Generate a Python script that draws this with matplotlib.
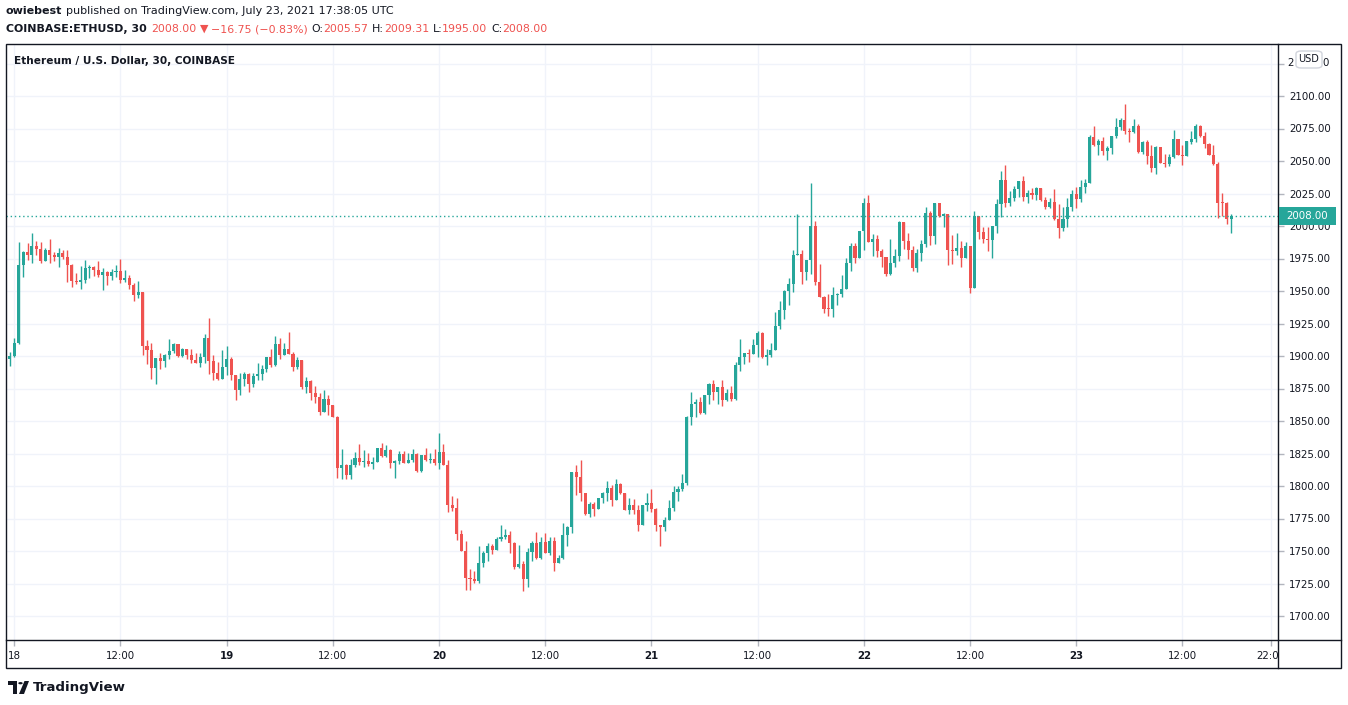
import matplotlib
matplotlib.use("Agg")
import matplotlib.pyplot as plt
import numpy as np
from matplotlib.patches import Rectangle, FancyBboxPatch, Polygon, Circle

# ---------------- data (30-min candles, COINBASE:ETHUSD) ----------------
first_open = 1900.0
closes = [
    1897.5, 1900, 1910, 1970, 1980, 1978, 1984.6, 1982.5, 1973.3, 1981.5,
    1978, 1976, 1979.5, 1976.4, 1970.2, 1957.4, 1957, 1958.2, 1967.7, 1968.7,
    1966.1, 1962, 1964.9, 1961.5, 1964.9, 1965.4, 1958.4, 1960, 1954.8, 1947.1,
    1949.2, 1907.7, 1904.6, 1890.7, 1898.4, 1896.4, 1901, 1904, 1909.2, 1900,
    1905.6, 1901, 1896.9, 1894.8, 1899, 1913.8, 1896, 1887.1, 1882.5, 1891.5,
    1897.7, 1885.2, 1873.9, 1882, 1886.2, 1878.5, 1884.6, 1886.2, 1890.3, 1899.2,
    1892.8, 1909, 1901, 1905.6, 1901.5, 1891.3, 1897, 1875.9, 1881, 1871.3,
    1868.2, 1857, 1867.2, 1862, 1853.4, 1813.9, 1815.9, 1808.2, 1815.9, 1821.6,
    1818.5, 1819.5, 1817, 1818.5, 1829.3, 1823.1, 1827.7, 1818, 1819.5, 1824.7,
    1818, 1820, 1824.7, 1811.3, 1823.6, 1820, 1821.1, 1818, 1826.2, 1816.4,
    1785.7, 1783.1, 1763.1, 1750.3, 1729.2, 1728.7, 1727.2, 1741, 1748.2, 1753.9,
    1750.8, 1759.5, 1760.5, 1762.6, 1756.4, 1738, 1740, 1728.7, 1749.2, 1756.4,
    1744.6, 1756.9, 1748.7, 1757.4, 1741, 1744.6, 1762, 1768.2, 1810.8, 1807.2,
    1794.9, 1778.5, 1786.2, 1782.6, 1790.8, 1794.9, 1798.5, 1789.2, 1801.5, 1794.4,
    1781.6, 1785.7, 1781.6, 1770.3, 1785.1, 1786.7, 1782.6, 1769.8, 1768.2, 1773.9,
    1783.1, 1795.4, 1798, 1802.1, 1853.4, 1863.1, 1864.6, 1855.9, 1869.8, 1878.5,
    1872.3, 1875.9, 1866.2, 1871.8, 1866.7, 1892.8, 1899, 1902, 1901.5, 1908.2,
    1918, 1899, 1901, 1904.6, 1923, 1935.4, 1950.3, 1955.4, 1978, 1978.5,
    1964.6, 1973.9, 2000, 1957, 1945.7, 1936.4, 1936.2, 1947.2, 1947.6, 1951.8,
    1971.3, 1984.6, 1975.4, 1995.9, 2017.5, 1987.7, 1989.8, 1981, 1975.9, 1963.3,
    1971.8, 1976.9, 2003.1, 1988.7, 1981.5, 1967.7, 1979, 1986.2, 2010.3, 1992.3,
    2017.4, 2007.7, 2009.2, 1981.5, 1981, 1983.1, 1975.4, 1984.6, 1952.3, 2007.7,
    1995.4, 1990.3, 1989.2, 2000, 2016.9, 2035.4, 2017.9, 2021.5, 2028.2, 2034.4,
    2022.5, 2025.1, 2023.6, 2029.2, 2020, 2014.9, 2018.4, 2005.1, 1998.4, 2005.6,
    2014.8, 2024.6, 2020.5, 2029.7, 2033.3, 2068.7, 2062.5, 2065.6, 2057.9, 2060.3,
    2069, 2076.2, 2081.3, 2073.1, 2072.1, 2076.7, 2056.7, 2064.4, 2053.6, 2044.9,
    2060.8, 2048.5, 2048, 2053.1, 2066.9, 2054.6, 2054.1, 2065, 2066.9, 2077.2,
    2069.5, 2063.4, 2054.6, 2047.5, 2017.7, 2017.4, 2005.57, 2008.0,
]
highs = [
    1900.5, 1903, 1914, 1987.7, 1980.5, 1986.6, 1994.3, 1988.5, 1987.7, 1983,
    1990, 1980, 1983, 1981.5, 1981.5, 1970.7, 1963.6, 1969.2, 1973.8, 1970.2,
    1969.2, 1973.3, 1967.7, 1965.5, 1967.2, 1970.2, 1974.6, 1966, 1962.3, 1956.4,
    1957.4, 1949.5, 1912.3, 1909.7, 1898.6, 1902, 1901.2, 1912.8, 1909.7, 1909.2,
    1906.1, 1905.5, 1905.1, 1902, 1902, 1916.9, 1929.2, 1900.5, 1895.3, 1904.6,
    1907.7, 1899.2, 1885.5, 1886.7, 1887.7, 1887.2, 1886.7, 1894.9, 1893.3, 1899.4,
    1905.1, 1915.4, 1913.8, 1909.7, 1918.5, 1903, 1899.5, 1897.2, 1884.1, 1881.2,
    1876.9, 1871.3, 1873.9, 1870.3, 1862.2, 1853.6, 1828.3, 1817, 1820.6, 1826.2,
    1832.4, 1827.7, 1825.7, 1822.1, 1829.5, 1832.9, 1831.8, 1828.3, 1820, 1826.7,
    1826.7, 1825.7, 1828.8, 1825.2, 1823.8, 1829.3, 1825.7, 1828.3, 1841, 1832.3,
    1820, 1792.3, 1790.8, 1766.2, 1757.9, 1735.9, 1734.4, 1753.9, 1750.3, 1755.9,
    1755.4, 1760.5, 1770.3, 1767.2, 1765.6, 1756.6, 1754.9, 1742.6, 1752.3, 1757.4,
    1764.6, 1761, 1763.6, 1761, 1760.5, 1747.2, 1771.3, 1769.3, 1811, 1815.9,
    1820, 1795, 1787.7, 1787.7, 1791, 1795.4, 1803.6, 1800.5, 1805.1, 1802.6,
    1794.5, 1790.8, 1789.7, 1785.1, 1785.3, 1794.4, 1797.4, 1782.8, 1770, 1775.9,
    1789.2, 1800, 1800, 1809.3, 1853.6, 1872.3, 1867.2, 1868.2, 1870, 1879,
    1881.6, 1876.1, 1881.6, 1874.4, 1876.9, 1895.4, 1912.8, 1902.2, 1905.1, 1912.8,
    1919, 1918.5, 1905.1, 1909.7, 1933.9, 1942, 1950.5, 1960, 1981.6, 2009.3,
    1981.6, 1974.1, 2033.4, 2003.6, 1970.8, 1945.9, 1947.7, 1952.8, 1948.7, 1962,
    1975.4, 1986.7, 1986.7, 1996.1, 2021.6, 2024.1, 1993.8, 1992.8, 1982.6, 1976.1,
    1990.3, 1982, 2003.6, 2003.3, 1994.9, 1984.6, 1982.6, 1989.2, 2014.4, 2011.3,
    2017.6, 2018, 2009.8, 2009.4, 1992.8, 1994.9, 1988.2, 1987.7, 1984.8, 2011.8,
    2007.9, 1999.5, 1999.5, 2000.2, 2020.5, 2042.5, 2047.1, 2026.6, 2030.7, 2034.8,
    2038.5, 2027.7, 2029.2, 2030.2, 2029.4, 2022, 2021.5, 2028.2, 2016.9, 2014.8,
    2021.5, 2027.7, 2029.7, 2035.4, 2035.9, 2070.2, 2076.9, 2067.2, 2068.7, 2061.8,
    2069.2, 2082.9, 2082.9, 2093.6, 2075.2, 2082.3, 2078.2, 2065.4, 2066.4, 2062.3,
    2061.3, 2061, 2055.7, 2055.2, 2073.6, 2067.1, 2062.3, 2065.2, 2073.1, 2078.7,
    2077.4, 2072.1, 2063.6, 2062.3, 2049.5, 2025.4, 2018.2, 2009.31,
]
lows = [
    1896.5, 1892.6, 1899, 1909, 1961, 1974, 1971.8, 1977.5, 1971.8, 1973,
    1971.8, 1973.3, 1968.7, 1974.8, 1956.9, 1953.3, 1955.4, 1951.8, 1956.4, 1960,
    1961.5, 1961, 1950.8, 1954.3, 1958.4, 1961, 1956.4, 1956.9, 1951.8, 1942.5,
    1944.6, 1901, 1893.8, 1882.5, 1878.4, 1889.7, 1891.2, 1897.9, 1902.5, 1899,
    1899, 1898, 1894.3, 1894.6, 1891.2, 1894.3, 1886.1, 1881.5, 1881.5, 1882,
    1885.7, 1881.6, 1866.2, 1869.8, 1877, 1872, 1876.4, 1881.6, 1881.6, 1887.7,
    1891.8, 1892.5, 1898, 1900.5, 1901.3, 1888.7, 1889.8, 1874.9, 1871.8, 1866.2,
    1863.6, 1854.4, 1856.8, 1854.4, 1852.8, 1806.2, 1805.7, 1805.7, 1805.7, 1814.9,
    1816.5, 1814.9, 1815.4, 1813.4, 1818.3, 1822.6, 1822.6, 1813.9, 1806.2, 1817,
    1817.5, 1817.8, 1818.5, 1810.8, 1810.5, 1819.5, 1818, 1815.9, 1813.4, 1816.2,
    1780, 1781, 1758.5, 1750, 1720, 1720, 1725.7, 1725.7, 1738, 1742.6,
    1747.7, 1750.5, 1758, 1759.5, 1748.2, 1736.4, 1737, 1719, 1722.6, 1742,
    1744.1, 1744.1, 1748.5, 1746.7, 1734.4, 1740.5, 1744, 1753.9, 1764.1, 1793.4,
    1788.7, 1778, 1776.4, 1777, 1782, 1787.2, 1788.7, 1784.6, 1789, 1793.9,
    1781.4, 1778.5, 1778.5, 1765.6, 1770, 1780.5, 1780, 1765.6, 1753.9, 1765.6,
    1773.7, 1781, 1788.7, 1795.9, 1800.5, 1847.2, 1852.8, 1855.4, 1855.7, 1863.1,
    1866.2, 1863.1, 1861.5, 1865.6, 1865.6, 1866.5, 1888.7, 1893.8, 1895.4, 1901.3,
    1899, 1898.5, 1893.3, 1899, 1904.4, 1920.5, 1928.8, 1939.5, 1949.2, 1977.8,
    1955.4, 1958.5, 1963.1, 1954.4, 1945.5, 1933.3, 1930.8, 1930.3, 1939.5, 1945.7,
    1951.6, 1965.6, 1971.8, 1975.2, 1981.6, 1987.5, 1976.9, 1976.4, 1968.7, 1961.5,
    1962, 1968.7, 1973.3, 1982, 1974.9, 1965.6, 1964.6, 1973.3, 1983.6, 1985.6,
    1986.2, 2006.7, 1999.5, 1970.3, 1970.8, 1977.4, 1968.7, 1975.2, 1948.2, 1952.1,
    1990.3, 1986.7, 1981, 1975.4, 1994.3, 2007.2, 2014.3, 2015.4, 2019.5, 2022.5,
    2019.5, 2017.9, 2021, 2020, 2019.5, 2012.8, 2013.8, 2004.9, 1990.7, 1996.4,
    1999.5, 2011.3, 2013.8, 2018.4, 2025.6, 2033.1, 2061.5, 2054.3, 2054.3, 2051,
    2055.2, 2068, 2073.6, 2071, 2064.4, 2071.9, 2056.2, 2055.2, 2047.5, 2041.8,
    2040.3, 2048.3, 2045.4, 2045.9, 2052.6, 2054.4, 2047, 2053.9, 2063.4, 2064.9,
    2068.5, 2060.3, 2054.4, 2047, 2006.4, 2008, 2001.3, 1995.0,
]
last_price = 2008.00
price_ticks = [1700, 1725, 1750, 1775, 1800, 1825, 1850, 1875, 1900, 1925,
               1950, 1975, 2000, 2025, 2050, 2075, 2100, 2125]
# candle index 0 = Jul 17 23:00, one candle per 30 minutes
time_tick_idx = [2, 26, 50, 74, 98, 122, 146, 170, 194, 218, 242, 266, 286]
time_tick_labels = ["18", "12:00", "19", "12:00", "20", "12:00", "21", "12:00",
                    "22", "12:00", "23", "12:00", "22:00"]
time_tick_bold = [False, False, True, False, True, False, True, False,
                  True, False, True, False, False]

# ---------------- figure ----------------
W, H = 1348, 705
fig = plt.figure(figsize=(W / 100, H / 100), dpi=100)
fig.patch.set_facecolor("white")
plt.rcParams["font.family"] = ["DejaVu Sans"]

UP = "#26a69a"
DN = "#ef5350"
TXT = "#131722"
GRID = "#f0f3fa"


def fx(px):
    return px / W


def fy(py):
    return 1 - py / H


AX_L, AX_R, AX_T, AX_B = 6, 1278, 44, 640
ax = fig.add_axes([fx(AX_L), fy(AX_B), (AX_R - AX_L) / W, (AX_B - AX_T) / H])

c = np.array(closes, dtype=float)
o = np.concatenate([[first_open], c[:-1]])
hi = np.maximum(np.array(highs, dtype=float), np.maximum(o, c))
lo = np.minimum(np.array(lows, dtype=float), np.minimum(o, c))
idx = np.arange(len(c))
cols = np.where(c >= o, UP, DN)

ax.vlines(idx, lo, hi, colors=cols, linewidth=1.0, zorder=3)
body = np.maximum(np.abs(c - o), 0.8)
ax.bar(idx, body, bottom=np.minimum(o, c), width=0.7, color=cols,
       linewidth=0, zorder=4)

ax.axhline(last_price, color=UP, linewidth=1.0, linestyle=(0, (1, 2)), zorder=5)

# pixel mapping: candle i at x = 5.4 + 4.425*i ; price p at y = 96 + (2100-p)*1.3
x0 = (AX_L - 5.4) / 4.425
x1 = (AX_R - 5.4) / 4.425
ax.set_xlim(x0, x1)
ax.set_ylim(2100 - (AX_B - 96) / 1.3, 2100 + (96 - AX_T) / 1.3)

# the top label (2125.00) is mostly hidden by the USD badge; only its
# outer characters are drawn separately beside the badge below
top_tick = price_ticks[-1]
ax.set_yticks(price_ticks)
ax.set_yticklabels([f"{p:.2f}" if p != top_tick else "" for p in price_ticks])
ax.set_xticks(time_tick_idx)
ax.set_xticklabels(time_tick_labels)
for lab, b in zip(ax.get_xticklabels(), time_tick_bold):
    if b:
        lab.set_fontweight("bold")

ax.yaxis.tick_right()
ax.tick_params(axis="y", which="both", length=4, width=1, color="#b2b5be",
               labelsize=7.4, labelcolor=TXT, pad=4)
ax.tick_params(axis="x", which="both", length=4, width=1, color="#b2b5be",
               labelsize=7.4, labelcolor=TXT, pad=4)
ax.grid(True, color=GRID, linewidth=1.0, zorder=0)
ax.set_axisbelow(True)
for s in ax.spines.values():
    s.set_visible(False)

# frame lines (figure level)
frame_col = "#131722"
fig.add_artist(Rectangle((fx(6), fy(668)), (1341 - 6) / W, (668 - 44) / H,
                         transform=fig.transFigure, fill=False,
                         edgecolor=frame_col, linewidth=1.0, zorder=10))
fig.add_artist(plt.Line2D([fx(6), fx(1341)], [fy(640), fy(640)],
                          transform=fig.transFigure, color=frame_col,
                          linewidth=1.0, zorder=10))
fig.add_artist(plt.Line2D([fx(AX_R), fx(AX_R)], [fy(44), fy(668)],
                          transform=fig.transFigure, color=frame_col,
                          linewidth=1.0, zorder=10))
# hide the clipped part of last time label beyond price scale
fig.add_artist(Rectangle((fx(1279), fy(667)), (1340 - 1279) / W, (667 - 641) / H,
                         transform=fig.transFigure, facecolor="white",
                         edgecolor="none", zorder=9))

# last price tag
fig.add_artist(Rectangle((fx(1279), fy(225)), (1336 - 1279) / W, 18 / H,
                         transform=fig.transFigure, facecolor=UP,
                         edgecolor="none", zorder=11))
fig.text(fx(1307.5), fy(216), f"{last_price:.2f}", color="white", fontsize=7.4,
         ha="center", va="center", zorder=12)

# USD badge over the top price label
fig.add_artist(FancyBboxPatch((fx(1296), fy(68)), 26 / W, 17 / H,
                              boxstyle="round,pad=0,rounding_size=0.004",
                              transform=fig.transFigure, facecolor="white",
                              edgecolor="#d1d4dc", linewidth=1.0, zorder=11))
fig.text(fx(1309), fy(59.5), "USD", color=TXT, fontsize=7.0,
         ha="center", va="center", zorder=12)
top_lbl = f"{top_tick:.2f}"
fig.text(fx(1287.5), fy(63.5), top_lbl[0], color=TXT, fontsize=7.4,
         ha="left", va="center", zorder=12)
fig.text(fx(1329), fy(63.5), top_lbl[-1], color=TXT, fontsize=7.4,
         ha="right", va="center", zorder=12)

# symbol label inside chart
fig.text(fx(14), fy(61), "Ethereum / U.S. Dollar, 30, COINBASE", color=TXT,
         fontsize=7.6, fontweight="semibold", ha="left", va="center", zorder=12)

# header
renderer = fig.canvas.get_renderer()


def chain(x, y, parts, size):
    for s, col, wt, gap in parts:
        t = fig.text(fx(x), fy(y), s, color=col, fontsize=size, fontweight=wt,
                     ha="left", va="center")
        bb = t.get_window_extent(renderer=renderer)
        x += bb.width + gap


chain(6, 11, [("owiebest", TXT, "bold", 3.5),
              ("published on TradingView.com, July 23, 2021 17:38:05 UTC",
               TXT, "normal", 0)], 8.0)
chain(6, 29, [("COINBASE:ETHUSD, 30", TXT, "bold", 4.5),
              ("2008.00", DN, "normal", 3),
              ("\u25BC", DN, "normal", 3),
              ("\u221216.75 (\u22120.83%)", DN, "normal", 3.5),
              ("O:", TXT, "normal", 0), ("2005.57", DN, "normal", 3.5),
              ("H:", TXT, "normal", 0), ("2009.31", DN, "normal", 3.5),
              ("L:", TXT, "normal", 0), ("1995.00", DN, "normal", 3.5),
              ("C:", TXT, "normal", 0), ("2008.00", DN, "normal", 0)], 7.9)

# TradingView logo (footer)
logo_col = "#131722"
fig.add_artist(Polygon([[fx(8), fy(681)], [fx(17), fy(681)], [fx(17), fy(694)],
                        [fx(13), fy(694)], [fx(13), fy(685)], [fx(8), fy(685)]],
                       closed=True, transform=fig.transFigure,
                       facecolor=logo_col, edgecolor="none"))
fig.add_artist(Circle((fx(20.5), fy(683.2)), 2.2 / W, transform=fig.transFigure,
                      facecolor=logo_col, edgecolor="none"))
fig.add_artist(Polygon([[fx(24.5), fy(681)], [fx(29), fy(681)], [fx(24), fy(694)],
                        [fx(19), fy(694)]],
                       closed=True, transform=fig.transFigure,
                       facecolor=logo_col, edgecolor="none"))
fig.text(fx(33), fy(687.5), "TradingView", color=logo_col, fontsize=9.6,
         fontweight="bold", ha="left", va="center")

fig.savefig("out.png", dpi=100, facecolor="white")
